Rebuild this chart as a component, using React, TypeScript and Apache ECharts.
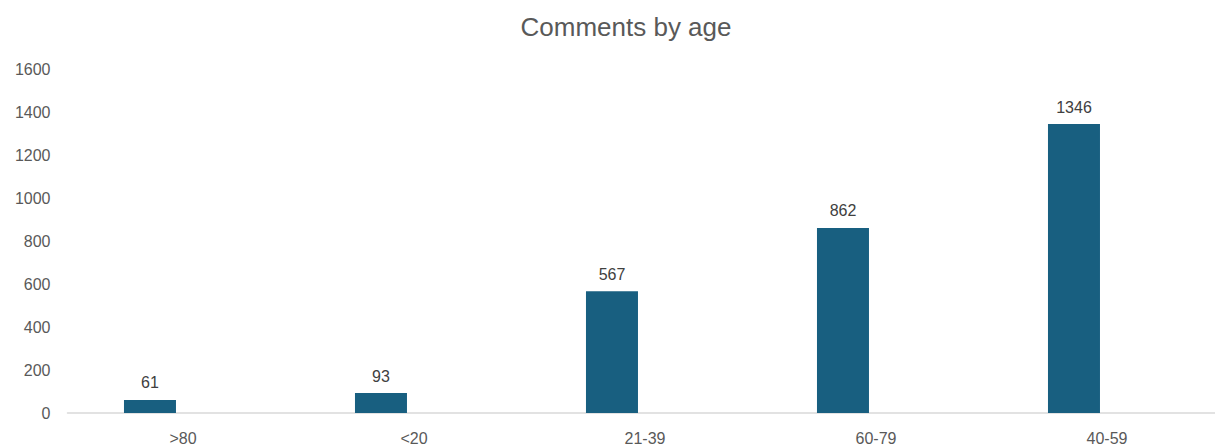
import React, { useEffect, useRef } from "react";
import * as echarts from "echarts";

const categories = [">80", "<20", "21-39", "60-79", "40-59"];
const comments = [61, 93, 567, 862, 1346];
const emptySeries: (number | null)[] = [null, null, null, null, null];
const yTicks = { min: 0, max: 1600, interval: 200 };

export default function App() {
  const ref = useRef<HTMLDivElement>(null);
  useEffect(() => {
    if (!ref.current) return;
    const chart = echarts.init(ref.current, undefined, { renderer: "svg" });
    const font = "Liberation Sans";
    chart.setOption({
      animation: false,
      backgroundColor: "#ffffff",
      title: {
        text: "Comments by age",
        left: 621,
        top: 9,
        textAlign: "center",
        textStyle: { fontFamily: font, fontSize: 26, fontWeight: "normal", color: "#595959" },
      },
      grid: { left: 67.5, top: 69.5, width: 1155, bottom: 34, containLabel: false },
      xAxis: {
        type: "category",
        data: categories,
        axisLine: { show: true, lineStyle: { color: "#d9d9d9", width: 1.5 } },
        axisTick: { show: false },
        axisLabel: { color: "#595959", fontFamily: font, fontSize: 16, margin: 17 },
      },
      yAxis: {
        type: "value",
        min: yTicks.min,
        max: yTicks.max,
        interval: yTicks.interval,
        axisLine: { show: false },
        axisTick: { show: false },
        splitLine: { show: false },
        axisLabel: {
          color: "#595959",
          fontFamily: font,
          fontSize: 16,
          margin: 17,
          formatter: (v: number) => String(v),
        },
      },
      series: [
        {
          type: "bar",
          data: comments,
          barWidth: 52,
          barGap: "27%",
          itemStyle: { color: "#185f80" },
          label: {
            show: true,
            position: "top",
            distance: 9,
            color: "#404040",
            fontFamily: font,
            fontSize: 16,
          },
        },
        {
          type: "bar",
          data: emptySeries,
          barWidth: 52,
          barGap: "27%",
          itemStyle: { color: "#185f80" },
        },
      ],
    });
    return () => chart.dispose();
  }, []);
  return (
    <div
      style={{
        position: "fixed",
        left: 0,
        top: 0,
        width: 1215,
        height: 447,
        overflow: "hidden",
        background: "#ffffff",
      }}
    >
      <div ref={ref} style={{ width: 1240, height: 447 }} />
    </div>
  );
}
